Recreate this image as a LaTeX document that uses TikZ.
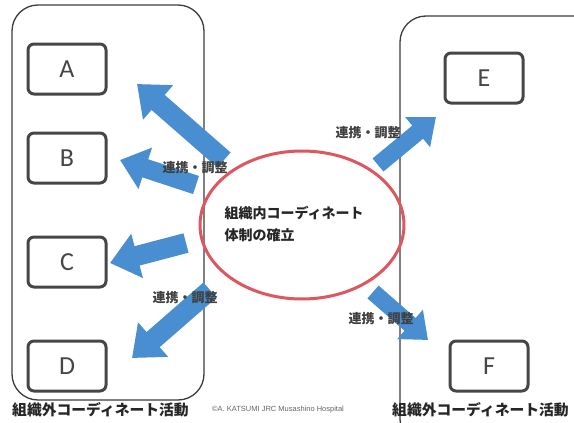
\documentclass[tikz,border=0pt]{standalone}
\usepackage{fontspec}
\setmainfont{Noto Sans CJK JP}
\newfontfamily\latinbox{Carlito}
\newfontfamily\credit{Liberation Sans}
\usetikzlibrary{arrows.meta,shapes.geometric}
\definecolor{arrowblue}{RGB}{72,142,208}
\definecolor{ringred}{RGB}{222,86,96}
\definecolor{boxgray}{RGB}{70,70,70}
\definecolor{frame}{RGB}{60,60,60}
\tikzset{
  container/.style={draw=frame,line width=1.3pt,rounded corners=26pt},
  unitbox/.style={draw=boxgray,line width=3pt,rounded corners=6pt,minimum width=78pt,minimum height=50pt,inner sep=0pt,font=\latinbox\fontsize{26}{26}\selectfont,text=boxgray},
  blockarrow/.style={draw=arrowblue,line width=#1,-{Triangle[width=2.2*#1,length=1.4*#1]}},
  linklabel/.style={font=\bfseries\fontsize{13}{13}\selectfont,text=black!75,inner sep=1pt},
  footlabel/.style={font=\bfseries\fontsize{14.8}{14.8}\selectfont,text=black!85,inner sep=0pt}
}
\begin{document}
\begin{tikzpicture}[x=1pt,y=-1pt]
\path[use as bounding box,fill=white] (0,0) rectangle (574,423);
\begin{scope}
\clip (0,0) rectangle (574,423);
% containers
\draw[container] (12,5) rectangle (204,400);
\draw[container] (400,16) rectangle (610,445);
% boxes
\node[unitbox] (A) at (67,69) {A};
\node[unitbox] (B) at (67,158) {B};
\node[unitbox] (C) at (67,262) {C};
\node[unitbox] (D) at (67,366) {D};
\node[unitbox] (E) at (484,78) {E};
\node[unitbox] (F) at (489,366) {F};
% central ellipse
\node[draw=ringred,line width=3pt,ellipse,minimum width=204pt,minimum height=148pt] (core) at (302,225) {};
\node[anchor=west,align=left,font=\bfseries\fontsize{14}{22}\selectfont,text=black!85] (coretext) at (221,224) {組織内コーディネート\\体制の確立};
% arrow coordinates
\coordinate (a1s) at (224,160);
\coordinate (a1e) at (137,84);
\coordinate (a2s) at (196,185);
\coordinate (a2e) at (120,160);
\coordinate (a3s) at (186,243);
\coordinate (a3e) at (110,263);
\coordinate (a4s) at (210,290);
\coordinate (a4e) at (132,358);
\coordinate (a5s) at (378,165);
\coordinate (a5e) at (436,117);
\coordinate (a6s) at (373,292);
\coordinate (a6e) at (428,340);
\draw[blockarrow=20pt] (a1s) -- (a1e);
\draw[blockarrow=19pt] (a2s) -- (a2e);
\draw[blockarrow=20pt] (a3s) -- (a3e);
\draw[blockarrow=20pt] (a4s) -- (a4e);
\draw[blockarrow=17pt] (a5s) -- (a5e);
\draw[blockarrow=17pt] (a6s) -- (a6e);
% labels
\node[linklabel] (l1) at (195,168) {連携・調整};
\node[linklabel] (l2) at (368,133) {連携・調整};
\node[linklabel] (l3) at (185,298) {連携・調整};
\node[linklabel] (l4) at (381,319) {連携・調整};
\node[footlabel,anchor=west] (f1) at (12,410) {組織外コーディネート活動};
\node[footlabel,anchor=west] (f2) at (392,410) {組織外コーディネート活動};
\node[anchor=west,font=\credit\fontsize{7.5}{7.5}\selectfont,text=black!60,inner sep=0pt] (cr) at (212,410) {©A. KATSUMI JRC Musashino Hospital};
\end{scope}
\end{tikzpicture}
\end{document}
